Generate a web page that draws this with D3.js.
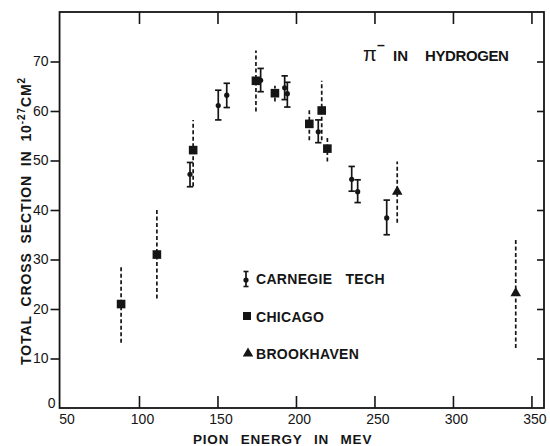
<!DOCTYPE html>
<html>
<head>
<meta charset="utf-8">
<script src="https://d3js.org/d3.v7.min.js"></script>
<style>
  body { margin: 0; background: #fff; }
  svg { display: block; }
  text { font-family: "Liberation Sans", Arial, sans-serif; fill: #151515; }
</style>
</head>
<body>
<div class="chart"></div>
<script>
// Carnegie Tech points (solid error bars)
var carnegieEnergy = [132.5, 150.5, 155.9, 177.5, 192.8, 194.5, 214.2, 235.5, 239.3, 257.8];
var carnegieSigma  = [47.2, 61.1, 63.2, 66.2, 64.7, 63.5, 55.8, 46.2, 43.7, 38.4];
var carnegieLow    = [44.7, 58.2, 60.7, 63.9, 62.3, 60.8, 53.6, 43.8, 41.5, 35.0];
var carnegieHigh   = [49.6, 64.2, 65.6, 68.6, 67.1, 65.8, 58.2, 48.8, 46.1, 42.0];

// Chicago points (dashed error bars)
var chicagoEnergy = [88.6, 111.4, 134.5, 174.5, 186.6, 208.5, 216.4, 220];
var chicagoSigma  = [21.0, 31.0, 52.1, 66.1, 63.6, 57.4, 60.1, 52.4];
var chicagoLow    = [13.2, 22.1, 44.8, 59.9, 61.9, 54.1, 54.1, 49.8];
var chicagoHigh   = [28.9, 40.1, 58.2, 72.2, 65.1, 60.2, 66.1, 54.8];

// Brookhaven points (dashed error bars)
var brookhavenEnergy = [264.5, 340];
var brookhavenSigma  = [43.7, 23.2];
var brookhavenLow    = [37.4, 12.1];
var brookhavenHigh   = [49.8, 34.4];

var xTicks = [50, 100, 150, 200, 250, 300, 350];
var yTicks = [0, 10, 20, 30, 40, 50, 60, 70];
var legendLabels = ["CARNEGIE TECH", "CHICAGO", "BROOKHAVEN"];

var svgWidth = 550;
var svgHeight = 446;
var ink = "#151515";

var svg = d3.select(".chart")
  .append("svg")
  .attr("width", svgWidth)
  .attr("height", svgHeight);

// scales
var x = d3.scaleLinear().domain([50, 358]).range([60.5, 544]);
var y = d3.scaleLinear().domain([0, 80]).range([408, 12]);

// frame
svg.append("rect")
  .attr("x", x(49.4)).attr("y", y(80))
  .attr("width", x(358) - x(49.4)).attr("height", y(0) - y(80))
  .attr("fill", "none").attr("stroke", ink).attr("stroke-width", 1.8);

// axes
var bottomAxis = d3.axisBottom(x).tickValues(xTicks).tickSize(-12).tickPadding(6);
var leftAxis = d3.axisLeft(y).tickValues(yTicks).tickSizeInner(9).tickSizeOuter(0).tickPadding(2);
var topAxis = d3.axisTop(x).tickValues(xTicks.slice(1)).tickSize(-12).tickFormat("");
var rightAxis = d3.axisRight(y).tickValues(yTicks.slice(1)).tickSize(-7).tickFormat("");

var gx = svg.append("g").attr("transform", "translate(0," + y(0) + ")").call(bottomAxis);
var gy = svg.append("g").attr("transform", "translate(" + x(49.4) + ",0)").call(leftAxis);
svg.append("g").attr("transform", "translate(0," + y(80) + ")").call(topAxis);
svg.append("g").attr("transform", "translate(" + x(358) + ",0)").call(rightAxis);

svg.selectAll(".domain").remove();
svg.selectAll(".tick line").attr("stroke", ink).attr("stroke-width", 1.6);
svg.selectAll(".tick text").attr("font-size", 14).attr("fill", ink).attr("font-family", null);

gx.selectAll(".tick").filter(d => d == 50).select("line").remove();
gy.selectAll(".tick").filter(d => d == 0).select("line").remove();
gx.selectAll(".tick text").attr("dx", d => d == 50 ? 6 : 3);
gy.selectAll(".tick text").filter(d => d == 0).attr("dx", 7).attr("dy", "-0.05em");

// error bars + markers
function errorBars(energy, low, high, dashed) {
  var rows = energy.map((e, i) => ({e: e, lo: low[i], hi: high[i]}));
  var g = svg.append("g");
  g.selectAll("line.bar")
    .data(rows)
    .enter()
    .append("line")
    .attr("x1", d => x(d.e)).attr("x2", d => x(d.e))
    .attr("y1", d => y(d.lo)).attr("y2", d => y(d.hi))
    .attr("stroke", ink)
    .attr("stroke-width", 1.7)
    .attr("stroke-dasharray", dashed ? "4,2.5" : null);
  if (!dashed) {
    ["lo", "hi"].forEach(function(k) {
      g.selectAll("line.cap" + k)
        .data(rows)
        .enter()
        .append("line")
        .attr("x1", d => x(d.e) - 3.2).attr("x2", d => x(d.e) + 3.2)
        .attr("y1", d => y(d[k])).attr("y2", d => y(d[k]))
        .attr("stroke", ink).attr("stroke-width", 1.7);
    });
  }
  return rows;
}

errorBars(carnegieEnergy, carnegieLow, carnegieHigh, false);
errorBars(chicagoEnergy, chicagoLow, chicagoHigh, true);
errorBars(brookhavenEnergy, brookhavenLow, brookhavenHigh, true);

svg.selectAll("circle.ct")
  .data(carnegieEnergy)
  .enter()
  .append("circle")
  .attr("cx", d => x(d))
  .attr("cy", (d, i) => y(carnegieSigma[i]))
  .attr("r", 2.6)
  .attr("fill", ink);

svg.selectAll("rect.chi")
  .data(chicagoEnergy)
  .enter()
  .append("rect")
  .attr("x", d => x(d) - 4.3)
  .attr("y", (d, i) => y(chicagoSigma[i]) - 4.3)
  .attr("width", 8.6).attr("height", 8.6)
  .attr("fill", ink);

var tri = d3.symbol().type(d3.symbolTriangle).size(48);
svg.selectAll("path.bnl")
  .data(brookhavenEnergy)
  .enter()
  .append("path")
  .attr("d", tri)
  .attr("transform", (d, i) => "translate(" + x(d) + "," + y(brookhavenSigma[i]) + ")")
  .attr("fill", ink);

// legend
var legendY = [283.5, 321.5, 358.5];
var legend = svg.append("g");
legend.selectAll("text")
  .data(legendLabels)
  .enter()
  .append("text")
  .attr("x", 256)
  .attr("y", (d, i) => legendY[i])
  .attr("font-size", 14)
  .attr("font-weight", "bold")
  .attr("letter-spacing", 0.3)
  .attr("word-spacing", 9)
  .text(d => d);

legend.append("line").attr("x1", 246).attr("x2", 246).attr("y1", 271.5).attr("y2", 286.5)
  .attr("stroke", ink).attr("stroke-width", 1.7);
[271.5, 286.5].forEach(function(cy) {
  legend.append("line").attr("x1", 243.5).attr("x2", 248.5).attr("y1", cy).attr("y2", cy)
    .attr("stroke", ink).attr("stroke-width", 1.6);
});
legend.append("circle").attr("cx", 246).attr("cy", 280).attr("r", 2.6).attr("fill", ink);
legend.append("rect").attr("x", 243).attr("y", 312).attr("width", 8).attr("height", 8).attr("fill", ink);
legend.append("path").attr("d", tri).attr("transform", "translate(248,353.5)").attr("fill", ink);

// title
var title = svg.append("g").attr("font-size", 15).attr("font-weight", "bold");
title.append("text").attr("x", 363).attr("y", 61).attr("font-size", 20).attr("font-weight", "normal").text("π");
title.append("text").attr("x", 377).attr("y", 50).attr("font-size", 14).text("–");
title.append("text").attr("x", 393).attr("y", 61).text("IN");
title.append("text").attr("x", 425).attr("y", 61).attr("letter-spacing", -0.4).text("HYDROGEN");

// axis labels
var labelY = svg.append("text")
  .attr("transform", "translate(31,365) rotate(-90)")
  .attr("font-size", 14)
  .attr("font-weight", "bold")
  .attr("letter-spacing", 0.9)
  .attr("word-spacing", 4);
labelY.append("tspan").text("TOTAL CROSS SECTION IN 10");
labelY.append("tspan").attr("font-size", 10).attr("dy", -6).attr("word-spacing", 0).text("-27");
labelY.append("tspan").attr("dy", 6).text("CM");
labelY.append("tspan").attr("font-size", 10).attr("dy", -6).text("2");

svg.append("text")
  .attr("x", 193)
  .attr("y", 444)
  .attr("font-size", 13.5)
  .attr("font-weight", "bold")
  .attr("letter-spacing", 0.8)
  .attr("word-spacing", 7)
  .text("PION ENERGY IN MEV");
</script>
</body>
</html>
